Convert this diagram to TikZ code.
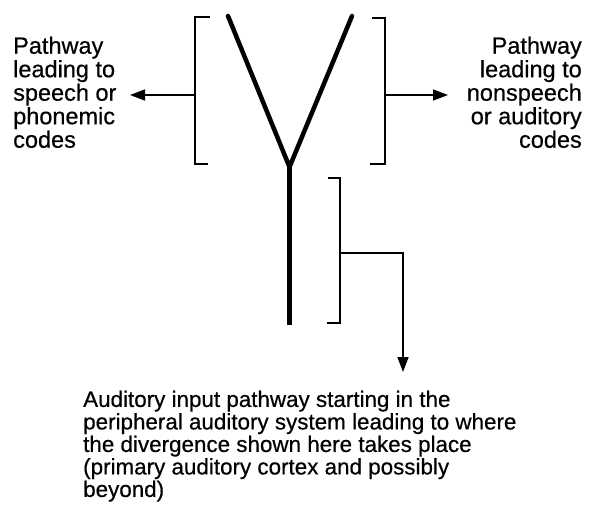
\documentclass[tikz,border=0pt]{standalone}
\usepackage{fontspec}
\setmainfont[FakeBold=0.5]{Liberation Sans}
\usetikzlibrary{arrows.meta}
\begin{document}
\begin{tikzpicture}[x=1pt,y=-1pt,
  bracketline/.style={line width=1.6pt, line join=miter},
  conn/.style={line width=1.6pt, -{Triangle[length=15pt,width=11pt]}},
  pathway/.style={line width=4.5pt},
  sidetext/.style={inner sep=0pt, font=\fontsize{23.5}{23.5}\selectfont},
  bottomtext/.style={inner sep=0pt, align=left, font=\fontsize{22.4}{22.5}\selectfont}]
\useasboundingbox (0,0) rectangle (592,506);

% texts
\node[sidetext, align=left, anchor=north west] (speech) at (13,36.5)
  {Pathway\\leading to\\speech or\\phonemic\\codes};
\node[sidetext, align=right, anchor=north east] (nonspeech) at (582,36.5)
  {Pathway\\leading to\\nonspeech\\or auditory\\codes};
\node[bottomtext, anchor=north west] (input) at (83,390.5)
  {Auditory input pathway starting in the\\peripheral auditory system leading to where\\the divergence shown here takes place\\(primary auditory cortex and possibly\\beyond)};

% Y-shaped pathway
\coordinate (armL) at (228,16);
\coordinate (armR) at (352,16);
\coordinate (fork) at (289.5,167);
\coordinate (stemEnd) at (289.5,325);
\draw[pathway, line cap=round, line join=miter] (armL) -- (fork) -- (armR);
\draw[pathway] (fork) -- (stemEnd);

% brackets
\coordinate (lbT) at (210,17);
\coordinate (lbB) at (208,164);
\coordinate (lbMid) at (195,95);
\draw[bracketline] (lbT) -- (195,17) -- (195,164) -- (lbB);
\coordinate (rbT) at (372,18);
\coordinate (rbB) at (370,164);
\coordinate (rbMid) at (385,95);
\draw[bracketline] (rbT) -- (385,18) -- (385,164) -- (rbB);
\coordinate (sbT) at (328,178);
\coordinate (sbB) at (327,323);
\coordinate (sbMid) at (340,253);
\draw[bracketline] (sbT) -- (340,178) -- (340,323) -- (sbB);

% arrows
\coordinate (tipL) at (130,95);
\coordinate (tipR) at (448,95);
\coordinate (tipB) at (403,372);
\draw[conn] (lbMid) -- (tipL);
\draw[conn] (rbMid) -- (tipR);
\draw[conn] (sbMid) -| (tipB);
\end{tikzpicture}
\end{document}
